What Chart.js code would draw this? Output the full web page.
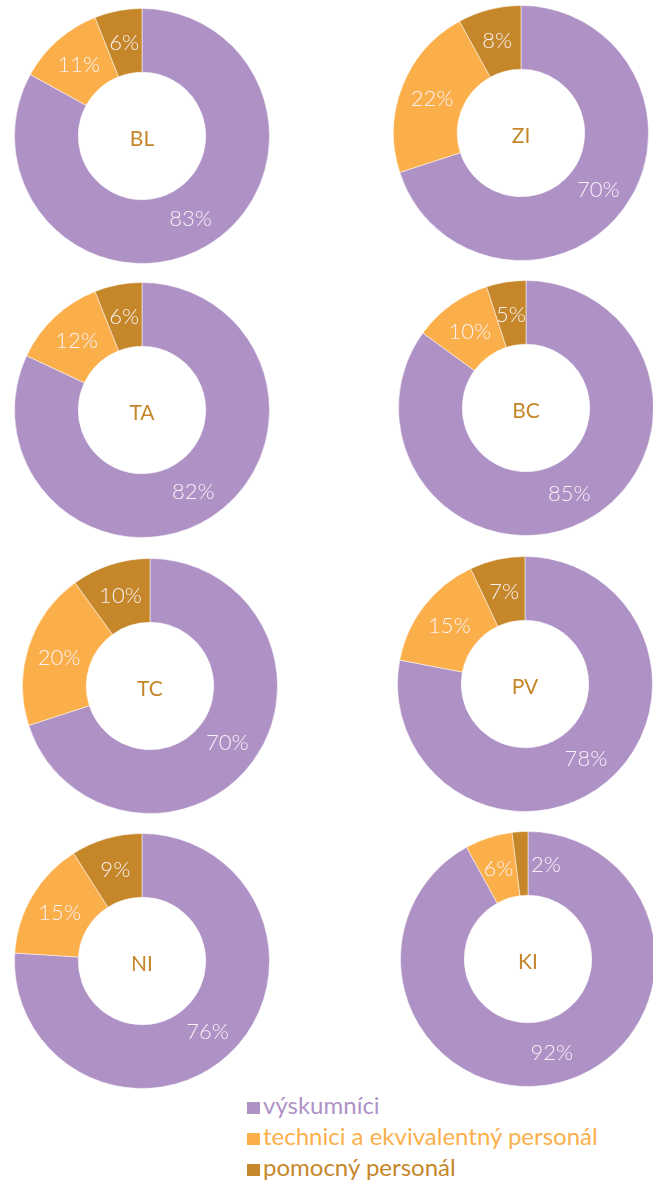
<!DOCTYPE html>
<html>
<head>
<meta charset="utf-8">
<script src="https://cdn.jsdelivr.net/npm/chart.js@4/dist/chart.umd.min.js"></script>
<style>
  html, body { margin: 0; padding: 0; background: #fff; }
  #page { position: relative; width: 653px; height: 1181px; overflow: hidden; }
  #page canvas { position: absolute; }
  .legend { position: absolute; left: 247px; top: 1089px; font-family: Lato, 'Open Sans', sans-serif; font-size: 24px; }
  .legend div { height: 31px; line-height: 31px; white-space: nowrap; }
  .legend span { display: inline-block; width: 13px; height: 12px; margin-right: 3px; vertical-align: 0px; }
</style>
</head>
<body>
<div id="page">
  <div class="legend" id="legend"></div>
</div>
<script>
// ---- data ----
const regions = ['BL', 'ZI', 'TA', 'BC', 'TC', 'PV', 'NI', 'KI'];
const categories = ['výskumníci', 'technici a ekvivalentný personál', 'pomocný personál'];
const researchers = [83, 70, 82, 85, 70, 78, 76, 92];
const technicians = [11, 22, 12, 10, 20, 15, 15, 6];
const support = [6, 8, 6, 5, 10, 7, 9, 2];

const colors = ['#af92c5', '#fbaf4b', '#c5872a'];

// centre of every doughnut on the page
const centres = [
    [141.5, 135.5], [520.5, 132.5],
    [141.5, 410], [526, 408],
    [149.5, 685.5], [524.5, 684],
    [141.5, 960.5], [528, 958.5]
];
const SIZE = 256;

// percent labels inside the ring + region code in the hole
const ringLabels = {
    id: 'ringLabels',
    afterDatasetsDraw(chart, args, opts) {
        const ctx = chart.ctx;
        const meta = chart.getDatasetMeta(0);
        const values = chart.data.datasets[0].data;
        ctx.save();
        ctx.font = '300 22px Lato';
        ctx.fillStyle = 'rgba(250, 245, 250, 0.96)';
        ctx.textBaseline = 'middle';
        meta.data.forEach((arc, i) => {
            const pos = arc.tooltipPosition();
            const text = values[i] + '%';
            if (values[i] < 4) {
                // thin slice: put the text just right of its leading edge
                ctx.textAlign = 'left';
                ctx.fillText(text, arc.x + 3, pos.y + 1);
            } else {
                ctx.textAlign = 'center';
                ctx.fillText(text, pos.x, pos.y + 1);
            }
        });
        const arc0 = meta.data[0];
        ctx.font = '21px Lato';
        ctx.fillStyle = colors[2];
        ctx.textAlign = 'center';
        ctx.fillText(opts.title, arc0.x, arc0.y + 3);
        ctx.restore();
    }
};

const page = document.getElementById('page');

regions.forEach((code, i) => {
    const canvas = document.createElement('canvas');
    canvas.width = SIZE;
    canvas.height = SIZE;
    canvas.style.left = (centres[i][0] - SIZE / 2) + 'px';
    canvas.style.top = (centres[i][1] - SIZE / 2) + 'px';
    page.appendChild(canvas);

    new Chart(canvas, {
        type: 'doughnut',
        data: {
            labels: categories,
            datasets: [{
                data: [researchers[i], technicians[i], support[i]],
                backgroundColor: colors,
                borderColor: 'rgba(255, 255, 255, 0.5)',
                borderWidth: 1,
                hoverOffset: 0
            }]
        },
        options: {
            responsive: false,
            animation: false,
            cutout: '50%',
            layout: { padding: 0 },
            plugins: {
                legend: { display: false },
                tooltip: { enabled: false },
                ringLabels: { title: code }
            }
        },
        plugins: [ringLabels]
    });
});

// legend below the charts
const legend = document.getElementById('legend');
categories.forEach((name, i) => {
    const row = document.createElement('div');
    row.style.color = colors[i];
    const box = document.createElement('span');
    box.style.background = colors[i];
    row.appendChild(box);
    row.appendChild(document.createTextNode(name));
    legend.appendChild(row);
});
</script>
</body>
</html>
